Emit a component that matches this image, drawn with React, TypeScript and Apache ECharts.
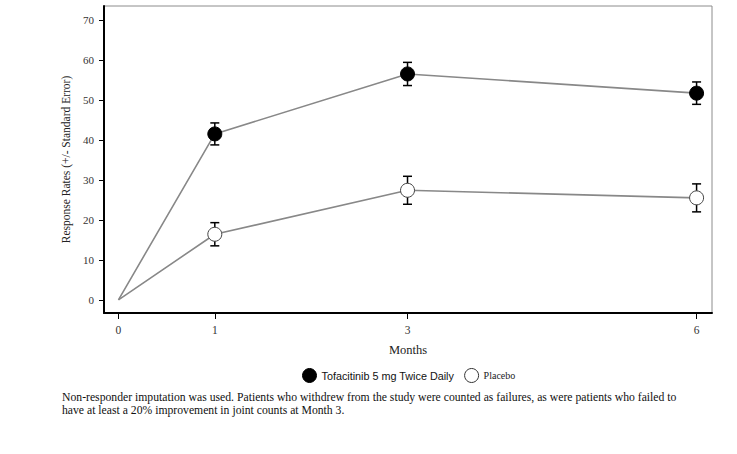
import React, { useEffect, useRef } from "react";
import * as echarts from "echarts";

const months = [0, 1, 3, 6];
const tofaValues = [0, 41.5, 56.5, 51.7];
const tofaErr = [0, 2.75, 2.9, 2.8];
const placeboValues = [0, 16.4, 27.4, 25.5];
const placeboErr = [0, 2.9, 3.5, 3.5];
const xTicks = [0, 1, 3, 6];
const yTicks = [0, 10, 20, 30, 40, 50, 60, 70];
const footLine1 =
  "Non-responder imputation was used. Patients who withdrew from the study were counted as failures, as were patients who failed to";
const footLine2 = "have at least a 20% improvement in joint counts at Month 3.";

const SERIF = "'Liberation Serif', 'Times New Roman', serif";
const SANS = "'Liberation Sans', Arial, sans-serif";

function lineData(vals: number[]) {
  return months.map((m, i) => ({
    value: [m, vals[i]],
    symbol: i === 0 ? "none" : "circle",
  }));
}

function errData(vals: number[], errs: number[]) {
  const out: number[][] = [];
  months.forEach((m, i) => {
    if (errs[i] > 0) out.push([m, vals[i] - errs[i], vals[i] + errs[i]]);
  });
  return out;
}

function errSeries(vals: number[], errs: number[]) {
  return {
    type: "custom",
    z: 1,
    silent: true,
    renderItem: (params: any, api: any) => {
      const x = api.value(0);
      const lo = api.coord([x, api.value(1)]);
      const hi = api.coord([x, api.value(2)]);
      const w = 4.5;
      const style = { stroke: "#000", lineWidth: 1.5 };
      return {
        type: "group",
        children: [
          { type: "line", shape: { x1: lo[0], y1: lo[1], x2: hi[0], y2: hi[1] }, style },
          { type: "line", shape: { x1: lo[0] - w, y1: lo[1], x2: lo[0] + w, y2: lo[1] }, style },
          { type: "line", shape: { x1: hi[0] - w, y1: hi[1], x2: hi[0] + w, y2: hi[1] }, style },
        ],
      };
    },
    encode: { x: 0, y: [1, 2] },
    data: errData(vals, errs),
  };
}

export default function App() {
  const ref = useRef<HTMLDivElement>(null);
  useEffect(() => {
    if (!ref.current) return;
    const chart = echarts.init(ref.current, undefined, { renderer: "svg" });
    chart.setOption({
      animation: false,
      backgroundColor: "#fff",
      grid: {
        left: 104,
        right: 25,
        top: 6,
        bottom: 141,
        show: true,
        borderColor: "#8c8c8c",
        borderWidth: 1,
        backgroundColor: "transparent",
      },
      xAxis: {
        type: "value",
        min: -0.15,
        max: 6.16,
        name: "Months",
        nameLocation: "middle",
        nameGap: 30,
        nameTextStyle: { fontFamily: SERIF, fontSize: 12.5, color: "#222" },
        axisLine: { onZero: false, lineStyle: { color: "#000", width: 2 } },
        axisTick: { customValues: xTicks, length: 6, lineStyle: { color: "#000", width: 1 } },
        axisLabel: {
          customValues: xTicks,
          margin: 11,
          fontFamily: SERIF,
          fontSize: 11.5,
          color: "#333",
        },
        splitLine: { show: false },
      },
      yAxis: {
        type: "value",
        min: -3.3,
        max: 73.5,
        name: "Response Rates (+/- Standard Error)",
        nameLocation: "middle",
        nameGap: 30,
        nameTextStyle: { fontFamily: SERIF, fontSize: 11.5, color: "#222" },
        axisLine: { onZero: false, lineStyle: { color: "#000", width: 2 } },
        axisTick: { customValues: yTicks, length: 5, lineStyle: { color: "#000", width: 1 } },
        axisLabel: {
          customValues: yTicks,
          margin: 10,
          fontFamily: SERIF,
          fontSize: 11,
          color: "#333",
        },
        splitLine: { show: false },
      },
      legend: {
        top: 368,
        left: 302,
        padding: 0,
        itemWidth: 14,
        itemHeight: 14,
        itemGap: 10,
        selectedMode: false,
        data: [
          {
            name: "Tofacitinib 5 mg Twice Daily",
            icon: "circle",
            itemStyle: { color: "#000", borderColor: "#000", borderWidth: 1 },
          },
          {
            name: "Placebo",
            icon: "circle",
            itemStyle: { color: "#fff", borderColor: "#333", borderWidth: 1 },
          },
        ],
        formatter: (name: string) =>
          name === "Placebo" ? "{p|" + name + "}" : "{t|" + name + "}",
        textStyle: {
          rich: {
            t: { fontFamily: SANS, fontSize: 10.8, color: "#111" },
            p: { fontFamily: SERIF, fontSize: 10, color: "#222" },
          },
        },
      },
      graphic: [
        {
          type: "text",
          left: 62,
          top: 391,
          style: { text: footLine1, fontFamily: SERIF, fontSize: 11.7, fill: "#111" },
        },
        {
          type: "text",
          left: 62,
          top: 404,
          style: { text: footLine2, fontFamily: SERIF, fontSize: 11.7, fill: "#111" },
        },
      ],
      series: [
        errSeries(tofaValues, tofaErr),
        errSeries(placeboValues, placeboErr),
        {
          name: "Tofacitinib 5 mg Twice Daily",
          type: "line",
          z: 3,
          symbolSize: 14,
          lineStyle: { color: "#888", width: 1.6 },
          itemStyle: { color: "#000", borderColor: "#000", borderWidth: 1 },
          data: lineData(tofaValues),
        },
        {
          name: "Placebo",
          type: "line",
          z: 3,
          symbolSize: 14,
          lineStyle: { color: "#888", width: 1.6 },
          itemStyle: { color: "#fff", borderColor: "#444", borderWidth: 1 },
          data: lineData(placeboValues),
        },
      ],
    });
    return () => chart.dispose();
  }, []);
  return (
    <div
      ref={ref}
      style={{ position: "absolute", left: 0, top: 0, width: 737, height: 454 }}
    />
  );
}
